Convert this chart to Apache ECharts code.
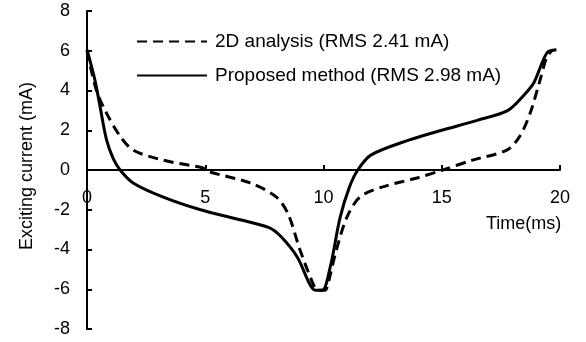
<!DOCTYPE html>
<html>
<head>
<meta charset="utf-8">
<script src="https://cdn.jsdelivr.net/npm/echarts@6/dist/echarts.min.js"></script>
<style>
  html, body { margin: 0; padding: 0; background: #fff; }
  #chart { width: 586px; height: 342px; }
</style>
</head>
<body>
<div id="chart"></div>
<script>
// Exciting current waveforms over one period (time in ms, current in mA)
const seriesNames = ['2D analysis (RMS 2.41 mA)', 'Proposed method (RMS 2.98 mA)'];

const time2D = [0, 0.4, 0.83, 1.4, 1.95, 3.2, 4.9, 5.2, 6.9, 8.0, 8.5, 9.0, 9.55, 9.75, 10.05, 10.15, 10.55, 11.0, 11.55, 12.5, 13.95, 15.05, 16.3, 17.75, 18.3, 18.75, 19.15, 19.45, 19.7];
const current2D = [6.0, 4.0, 2.85, 1.7, 1.0, 0.5, 0.1, -0.1, -0.65, -1.35, -2.2, -4.0, -5.7, -6.05, -6.05, -5.9, -4.0, -2.35, -1.35, -0.85, -0.4, 0.0, 0.5, 1.0, 1.7, 2.9, 4.5, 5.7, 6.05];

const timeProposed = [0, 0.34, 0.55, 0.83, 1.1, 1.4, 1.95, 3.2, 4.8, 6.3, 7.7, 8.2, 8.9, 9.4, 9.65, 9.95, 10.3, 10.7, 11.1, 11.45, 12.0, 13.6, 15.0, 16.5, 17.8, 18.5, 18.9, 19.45, 19.85];
const currentProposed = [6.05, 4.5, 3.2, 1.5, 0.6, 0.0, -0.65, -1.35, -2.0, -2.45, -2.9, -3.35, -4.4, -5.7, -6.05, -6.05, -4.8, -2.4, -0.85, 0.0, 0.75, 1.5, 2.0, 2.5, 3.0, 3.8, 4.4, 5.9, 6.05];

const xTicks = { min: 0, max: 20, step: 5 };
const yTicks = { min: -8, max: 8, step: 2 };

const FONT = '"Liberation Sans", Arial, sans-serif';
const pair = (xs, ys) => xs.map((x, i) => [x, ys[i]]);

const chart = echarts.init(document.getElementById('chart'), null, { renderer: 'canvas' });

chart.setOption({
  animation: false,
  backgroundColor: '#ffffff',
  textStyle: { fontFamily: FONT, color: '#000' },
  grid: { left: 87, right: 26, top: 11, bottom: 13, containLabel: false, outerBoundsMode: 'none' },
  legend: {
    left: 131,
    top: 27,
    orient: 'vertical',
    itemWidth: 70,
    itemHeight: 18,
    itemGap: 15,
    itemStyle: { opacity: 0 },
    textStyle: { fontFamily: FONT, fontSize: 19, color: '#000', padding: [0, 0, 0, 3] },
    data: seriesNames
  },
  xAxis: {
    type: 'value',
    min: xTicks.min,
    max: xTicks.max,
    interval: xTicks.step,
    axisLine: { onZero: true, lineStyle: { color: '#000', width: 2 } },
    axisTick: { show: true, inside: true, length: 5, lineStyle: { color: '#000', width: 2 } },
    // tick labels sit just under the zero line rather than at the grid bottom
    axisLabel: { color: '#000', fontSize: 18, fontFamily: FONT, margin: -140 },
    splitLine: { show: false }
  },
  yAxis: {
    type: 'value',
    min: yTicks.min,
    max: yTicks.max,
    interval: yTicks.step,
    axisLine: { show: true, onZero: false, lineStyle: { color: '#000', width: 2 } },
    axisTick: { show: true, inside: true, length: 5, lineStyle: { color: '#000', width: 2 } },
    axisLabel: { color: '#000', fontSize: 18, fontFamily: FONT, margin: 17 },
    splitLine: { show: false }
  },
  graphic: [
    {
      type: 'text',
      left: 486,
      top: 215,
      style: { text: 'Time(ms)', fill: '#000', font: '18px ' + FONT }
    },
    {
      type: 'text',
      x: 27,
      y: 166,
      rotation: Math.PI / 2,
      style: {
        text: 'Exciting current (mA)',
        fill: '#000',
        font: '18px ' + FONT,
        align: 'center',
        verticalAlign: 'middle'
      }
    }
  ],
  series: [
    {
      name: seriesNames[0],
      type: 'line',
      data: pair(time2D, current2D),
      smooth: 0.3,
      symbol: 'none',
      lineStyle: { color: '#000', width: 3, type: [10, 6] },
      itemStyle: { color: '#000' }
    },
    {
      name: seriesNames[1],
      type: 'line',
      data: pair(timeProposed, currentProposed),
      smooth: 0.3,
      symbol: 'none',
      lineStyle: { color: '#000', width: 3, type: 'solid' },
      itemStyle: { color: '#000' }
    }
  ]
});
</script>
</body>
</html>
